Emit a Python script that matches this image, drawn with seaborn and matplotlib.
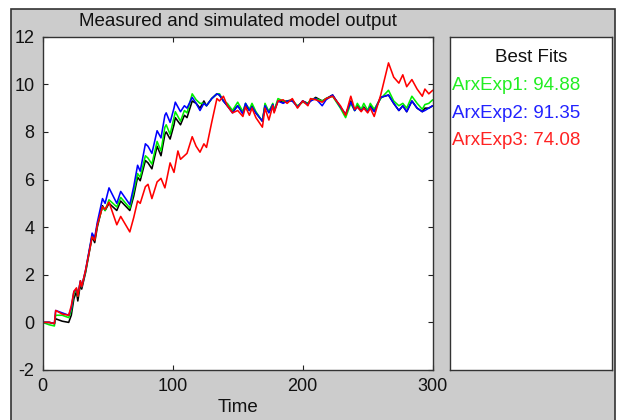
import matplotlib
matplotlib.use("Agg")
import matplotlib.pyplot as plt
import numpy as np
import pandas as pd
import seaborn as sns
from matplotlib.patches import Rectangle

# ---------------- data ----------------
time = [0, 5, 9, 10, 15, 20, 22, 24, 26, 27, 29, 30, 33, 37, 38, 40, 42, 46, 48, 51,
        57, 60, 67, 70, 73, 75, 79, 81, 84, 88, 91, 94, 95, 98, 101, 102, 104, 106, 109, 111,
        115, 118, 121, 124, 126, 130, 134, 136, 139, 142, 146, 150, 154, 156, 159, 161, 164, 169, 171, 174,
        177, 178, 181, 185, 188, 192, 196, 200, 204, 206, 210, 215, 218, 223, 229, 233, 237, 240, 242, 245,
        247, 250, 252, 255, 260, 266, 270, 274, 277, 280, 284, 288, 292, 294, 297, 300]

measured = [0.0, 0.0, -0.05, 0.15, 0.05, 0.0, 0.3, 1.0, 1.3, 0.9, 1.6, 1.4, 2.1, 3.3, 3.6, 3.35, 4.0, 4.9, 4.7, 5.0,
            4.7, 5.1, 4.7, 5.3, 6.1, 5.95, 6.8, 6.7, 6.45, 7.4, 7.0, 7.9, 8.0, 7.7, 8.3, 8.6, 8.45, 8.3, 8.7, 8.6,
            9.3, 9.2, 9.0, 9.3, 9.1, 9.4, 9.6, 9.55, 9.3, 9.1, 8.85, 9.1, 8.8, 9.1, 8.9, 9.1, 8.8, 8.45, 9.1, 8.85,
            9.15, 8.9, 9.3, 9.25, 9.3, 9.35, 9.05, 9.3, 9.2, 9.3, 9.45, 9.3, 9.4, 9.55, 9.05, 8.7, 9.3, 8.9, 9.1, 8.9,
            9.05, 8.85, 9.1, 8.9, 9.45, 9.55, 9.2, 8.9, 9.1, 8.85, 9.3, 9.0, 8.85, 9.0, 9.0, 9.1]

arx1 = [0.0, -0.1, -0.15, 0.3, 0.3, 0.2, 0.5, 1.2, 1.4, 1.1, 1.7, 1.5, 2.15, 3.35, 3.65, 3.5, 4.1, 4.85, 4.7, 5.15,
        4.85, 5.25, 4.8, 5.5, 6.25, 6.1, 7.0, 6.9, 6.65, 7.6, 7.2, 8.2, 8.3, 7.9, 8.6, 8.85, 8.65, 8.45, 8.9, 8.8,
        9.6, 9.35, 9.2, 9.2, 9.1, 9.4, 9.6, 9.6, 9.3, 9.2, 8.9, 9.25, 8.85, 9.2, 8.95, 9.2, 8.85, 8.45, 9.2, 8.85,
        9.2, 8.9, 9.4, 9.3, 9.3, 9.3, 9.1, 9.25, 9.2, 9.35, 9.4, 9.3, 9.4, 9.5, 9.0, 8.6, 9.2, 8.9, 9.2, 8.95,
        9.2, 8.9, 9.2, 8.95, 9.4, 9.75, 9.3, 9.1, 9.2, 9.0, 9.5, 9.2, 8.95, 9.15, 9.2, 9.35]

arx2 = [0.0, 0.0, -0.05, 0.5, 0.4, 0.3, 0.6, 1.3, 1.4, 1.15, 1.75, 1.5, 2.2, 3.4, 3.75, 3.55, 4.2, 5.2, 5.0, 5.65,
        5.0, 5.5, 4.95, 5.7, 6.6, 6.35, 7.5, 7.4, 7.1, 8.05, 7.75, 8.7, 8.8, 8.4, 9.0, 9.25, 9.05, 8.85, 9.1, 9.0,
        9.45, 9.2, 8.9, 9.2, 9.1, 9.4, 9.6, 9.55, 9.3, 9.1, 8.8, 9.1, 8.75, 9.2, 8.9, 9.05, 8.8, 8.45, 9.1, 8.8,
        9.15, 8.85, 9.3, 9.2, 9.3, 9.3, 9.05, 9.3, 9.15, 9.3, 9.4, 9.1, 9.35, 9.55, 9.05, 8.75, 9.25, 8.9, 9.05, 8.9,
        9.0, 8.85, 9.05, 8.85, 9.45, 9.55, 9.2, 8.9, 9.1, 8.85, 9.3, 9.0, 8.85, 8.9, 9.0, 9.1]

arx3 = [0.0, 0.0, -0.05, 0.5, 0.35, 0.3, 0.7, 1.3, 1.45, 1.1, 1.75, 1.5, 2.2, 3.3, 3.6, 3.45, 4.1, 4.85, 4.75, 5.05,
        4.1, 4.45, 3.8, 4.4, 5.1, 5.0, 5.7, 5.8, 5.2, 5.9, 6.05, 5.65, 5.9, 6.7, 6.3, 6.6, 7.2, 6.85, 7.0, 7.1,
        7.8, 7.4, 7.15, 7.5, 7.35, 8.4, 9.4, 9.3, 9.5, 9.1, 8.8, 8.9, 8.65, 9.05, 8.7, 9.0, 8.6, 8.2, 9.0, 8.5,
        9.1, 8.8, 9.3, 9.35, 9.2, 9.4, 9.0, 9.3, 9.1, 9.4, 9.35, 9.25, 9.4, 9.5, 9.1, 8.7, 9.5, 8.95, 9.05, 8.85,
        9.0, 8.8, 9.0, 8.65, 9.55, 10.9, 10.3, 10.05, 10.4, 9.9, 10.2, 9.8, 9.5, 9.8, 9.6, 9.75]

series_names = ["Measured", "ArxExp1", "ArxExp2", "ArxExp3"]
series_colors = ["#000000", "#00ee00", "#0000ff", "#ff0000"]
fit_labels = ["ArxExp1: 94.88", "ArxExp2: 91.35", "ArxExp3: 74.08"]
fit_colors = ["#22ee22", "#2222ff", "#ff2222"]
x_ticks = [0, 100, 200, 300]
y_ticks = [-2, 0, 2, 4, 6, 8, 10, 12]

# ---------------- build long table ----------------
frames = []
for name, vals in zip(series_names, [measured, arx1, arx2, arx3]):
    frames.append(pd.DataFrame({"Time": time, "Output": vals, "Series": name}))
df = pd.concat(frames, ignore_index=True)

sns.set_theme(style="white")
plt.rcParams["font.family"] = ["Liberation Sans", "DejaVu Sans"]
plt.rcParams["axes.unicode_minus"] = False

W, H = 617, 420
fig = plt.figure(figsize=(W / 100, H / 100), dpi=100, facecolor="white")

# gray panel
fig.patches.append(Rectangle((11 / W, -0.01), (615 - 11) / W, (H - 8.5) / H + 0.01,
                             transform=fig.transFigure, facecolor="#cccccc",
                             edgecolor="#333333", lw=1.2, zorder=-10))

ax_l, ax_r, ax_t, ax_b = 42.7, 432.7, 36.7, 370.0
ax = fig.add_axes([ax_l / W, 1 - ax_b / H, (ax_r - ax_l) / W, (ax_b - ax_t) / H])
ax.set_facecolor("white")

sns.lineplot(data=df, x="Time", y="Output", hue="Series", hue_order=series_names,
             palette=dict(zip(series_names, series_colors)), estimator=None, sort=False,
             legend=False, linewidth=1.15, ax=ax)

ax.set_xlim(0, 300)
ax.set_ylim(-2, 12)
ax.set_xticks(x_ticks)
ax.set_yticks(y_ticks)
ax.set_xlabel("")
ax.set_ylabel("")
ax.tick_params(direction="in", length=3.5, width=0.8, top=True, right=True,
               bottom=True, left=True, labelsize=13, colors="#222222", pad=6)
for lab in ax.get_xticklabels() + ax.get_yticklabels():
    lab.set_color("#111111")
for sp in ax.spines.values():
    sp.set_color("#333333")
    sp.set_linewidth(1.0)

cx = (ax_l + ax_r) / 2
fig.text(cx / W, 1 - 22 / H, "Measured and simulated model output", ha="center", va="center",
         fontsize=13.5, color="#111111")
fig.text(cx / W, 1 - 408 / H, "Time", ha="center", va="center", fontsize=13.5, color="#111111")

# right panel
p_l, p_r = 450, 612
ax2 = fig.add_axes([p_l / W, 1 - ax_b / H, (p_r - p_l) / W, (ax_b - ax_t) / H])
ax2.set_facecolor("white")
ax2.set_xticks([])
ax2.set_yticks([])
for sp in ax2.spines.values():
    sp.set_color("#333333")
    sp.set_linewidth(1.0)

fig.text((p_l + p_r) / 2 / W, 1 - 62 / H, "Best Fits", ha="center", va="baseline",
         fontsize=13.5, color="#111111")
for i, (lab, col) in enumerate(zip(fit_labels, fit_colors)):
    fig.text(452.5 / W, 1 - (90 + 27.5 * i) / H, lab, ha="left", va="baseline",
             fontsize=13.5, color=col)

fig.savefig("out.png", dpi=100, facecolor=fig.get_facecolor())
